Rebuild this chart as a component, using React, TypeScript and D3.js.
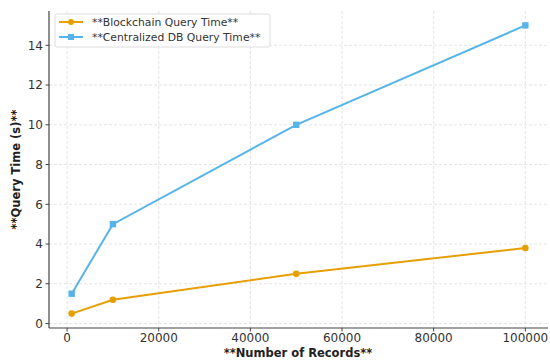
import React from "react";
import * as d3 from "d3";

const records = [1000, 10000, 50000, 100000];
const blockchain = [0.5, 1.2, 2.5, 3.8];
const centralized = [1.5, 5, 10, 15];
const xTicks = [0, 20000, 40000, 60000, 80000, 100000];
const yTicks = [0, 2, 4, 6, 8, 10, 12, 14];
const seriesNames = ["**Blockchain Query Time**", "**Centralized DB Query Time**"];
const colors = ["#E69F00", "#56B4E9"];

export default function App() {
  const W = 550, H = 360;
  const left = 49, right = 548, top = 11, bottom = 328;
  const x = d3.scaleLinear().domain([-3950, 104950]).range([left, right]);
  const y = d3.scaleLinear().domain([-0.225, 15.725]).range([bottom, top]);
  const line = d3.line<[number, number]>().x(d => x(d[0])).y(d => y(d[1]));
  const b = records.map((r, i) => [r, blockchain[i]] as [number, number]);
  const c = records.map((r, i) => [r, centralized[i]] as [number, number]);
  const font = "DejaVu Sans, sans-serif";
  const textCol = "#333";
  return (
    <svg width={W} height={H} style={{ position: "absolute", left: 0, top: 0, fontFamily: font }}>
      <rect width={W} height={H} fill="#fff" />
      {xTicks.map(t => (
        <line key={"gx" + t} x1={x(t)} x2={x(t)} y1={top} y2={bottom} stroke="#d8d8d8" strokeWidth={0.7} strokeDasharray="3,2" />
      ))}
      {yTicks.map(t => (
        <line key={"gy" + t} x1={left} x2={right} y1={y(t)} y2={y(t)} stroke="#d8d8d8" strokeWidth={0.7} strokeDasharray="3,2" />
      ))}
      <line x1={left} x2={left} y1={top} y2={bottom} stroke="#444" strokeWidth={1.2} />
      <line x1={left} x2={right} y1={bottom} y2={bottom} stroke="#444" strokeWidth={1.2} />
      {xTicks.map(t => (
        <g key={"tx" + t}>
          <line x1={x(t)} x2={x(t)} y1={bottom} y2={bottom + 3.5} stroke="#444" />
          <text x={x(t)} y={bottom + 13.5} textAnchor="middle" fontSize={12} fill={textCol}>{t}</text>
        </g>
      ))}
      {yTicks.map(t => (
        <g key={"ty" + t}>
          <line x1={left - 3.5} x2={left} y1={y(t)} y2={y(t)} stroke="#444" />
          <text x={left - 6} y={y(t) + 4.3} textAnchor="end" fontSize={12} fill={textCol}>{t}</text>
        </g>
      ))}
      <path d={line(c) || ""} fill="none" stroke={colors[1]} strokeWidth={2} />
      <path d={line(b) || ""} fill="none" stroke={colors[0]} strokeWidth={2} />
      {c.map((d, i) => (
        <rect key={"c" + i} x={x(d[0]) - 3.2} y={y(d[1]) - 3.2} width={6.4} height={6.4} fill={colors[1]} />
      ))}
      {b.map((d, i) => (
        <circle key={"b" + i} cx={x(d[0])} cy={y(d[1])} r={3.3} fill={colors[0]} />
      ))}
      <text x={298} y={356.5} textAnchor="middle" fontSize={11.5} fontWeight="bold" fill="#222">**Number of Records**</text>
      <text transform={`translate(20,${(top + bottom) / 2}) rotate(-90)`} textAnchor="middle" fontSize={11.5} fontWeight="bold" fill="#222">**Query Time (s)**</text>
      <g>
        <rect x={55} y={14} width={215} height={33} rx={2} fill="#fff" fillOpacity={0.85} stroke="#ddd" />
        {seriesNames.map((n, i) => {
          const ly = 22 + i * 15;
          return (
            <g key={n}>
              <line x1={59} x2={83} y1={ly} y2={ly} stroke={colors[i]} strokeWidth={2} />
              {i === 0 ? (
                <circle cx={71} cy={ly} r={3} fill={colors[i]} />
              ) : (
                <rect x={68} y={ly - 3} width={6} height={6} fill={colors[i]} />
              )}
              <text x={92} y={ly + 3.8} fontSize={10.8} fill={textCol}>{n}</text>
            </g>
          );
        })}
      </g>
    </svg>
  );
}
